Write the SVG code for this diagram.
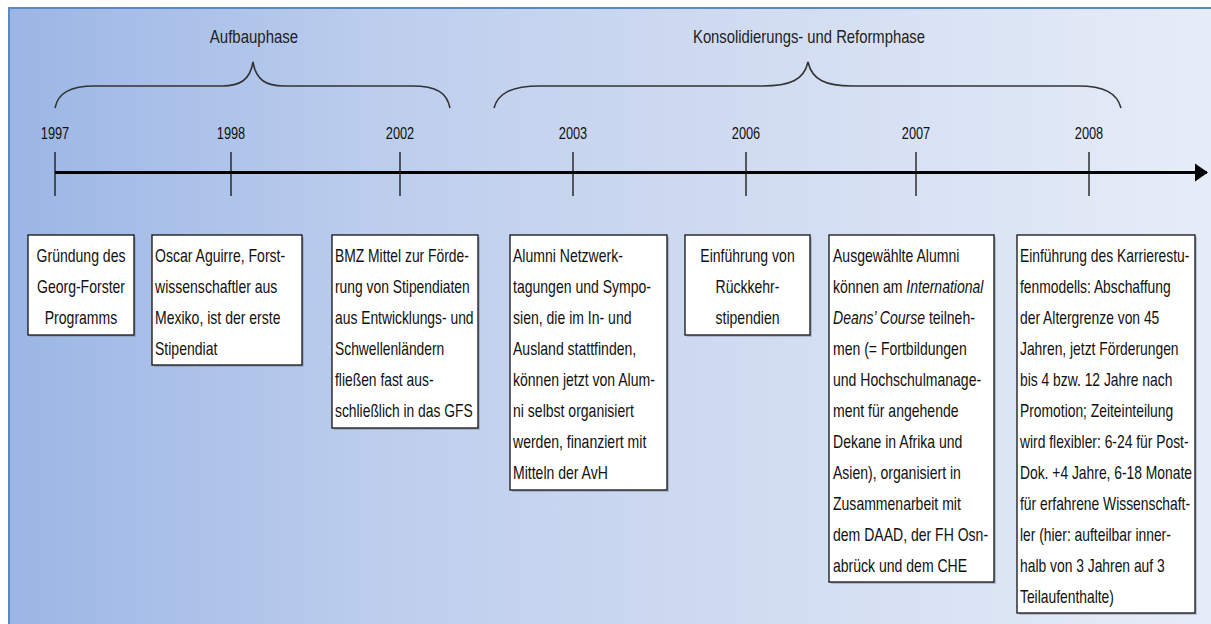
<svg xmlns="http://www.w3.org/2000/svg" width="1211" height="624" viewBox="0 0 1211 624">
<defs>
<linearGradient id="bg" x1="0" y1="0" x2="1" y2="0">
<stop offset="0" stop-color="#9bb6e5"/>
<stop offset="0.3" stop-color="#bccded"/>
<stop offset="0.6" stop-color="#d0dbf1"/>
<stop offset="1" stop-color="#e6edf8"/>
</linearGradient>
<marker id="arrow" markerUnits="userSpaceOnUse" markerWidth="14" markerHeight="20" refX="12" refY="10" orient="auto">
<path d="M0,1 L13,10 L0,19 Z" fill="#000"/>
</marker>
<style>
.t{font-family:"Liberation Sans",Arial,sans-serif;font-size:18px;fill:#111}
.yr{font-family:"Liberation Sans",Arial,sans-serif;font-size:16px;fill:#111;text-anchor:middle}
.ph{font-family:"Liberation Sans",Arial,sans-serif;font-size:18.5px;fill:#222;text-anchor:middle}
.c{text-anchor:middle}
.box{fill:#fff;stroke:#111;stroke-width:1.3}
.sh{fill:#7f8aa0;opacity:0.45}
.tick{stroke:#111;stroke-width:1.3}
.brace{fill:none;stroke:#333;stroke-width:1.6}
</style>
</defs>
<rect x="0" y="0" width="1211" height="624" fill="#fff"/>
<rect x="8" y="8" width="1203" height="616" fill="url(#bg)"/>
<line x1="8" y1="8" x2="1211" y2="8" stroke="#5a87c5" stroke-width="2"/>
<line x1="9" y1="8" x2="9" y2="624" stroke="#5a87c5" stroke-width="2"/>

<g id="phases">
<path class="brace" d="M55,108 C58,93 70,86 95,86 L222,86 C240,86 250,80 253,62 C256,80 266,86 284,86 L412,86 C437,86 447,93 450,108"/>
<path class="brace" d="M494,108 C498,93 512,86 540,86 L762,86 C790,86 804,80 808,62 C812,80 826,86 852,86 L1078,86 C1104,86 1117,93 1121,108"/>
<g transform="translate(254,43) scale(0.81,1)"><text class="ph" x="0" y="0">Aufbauphase</text></g>
<g transform="translate(809,43) scale(0.8,1)"><text class="ph" x="0" y="0">Konsolidierungs- und Reformphase</text></g>
</g>

<g id="connectors">
<line x1="55" y1="172.5" x2="1207" y2="172.5" stroke="#000" stroke-width="3" marker-end="url(#arrow)"/>
<line class="tick" x1="55" y1="152" x2="55" y2="196"/>
<line class="tick" x1="231" y1="152" x2="231" y2="196"/>
<line class="tick" x1="400" y1="152" x2="400" y2="196"/>
<line class="tick" x1="573" y1="152" x2="573" y2="196"/>
<line class="tick" x1="746" y1="152" x2="746" y2="196"/>
<line class="tick" x1="916" y1="152" x2="916" y2="196"/>
<line class="tick" x1="1089" y1="152" x2="1089" y2="196"/>
</g>

<g id="years">
<g transform="translate(55,139) scale(0.8,1)"><text class="yr">1997</text></g>
<g transform="translate(231,139) scale(0.8,1)"><text class="yr">1998</text></g>
<g transform="translate(400,139) scale(0.8,1)"><text class="yr">2002</text></g>
<g transform="translate(573,139) scale(0.8,1)"><text class="yr">2003</text></g>
<g transform="translate(746,139) scale(0.8,1)"><text class="yr">2006</text></g>
<g transform="translate(916,139) scale(0.8,1)"><text class="yr">2007</text></g>
<g transform="translate(1089,139) scale(0.8,1)"><text class="yr">2008</text></g>
</g>

<g id="n1997">
<rect class="sh" x="30" y="237" width="106" height="100"/>
<rect class="box" x="28" y="235" width="106" height="100"/>
<g transform="translate(81,0) scale(0.78,1)">
<text class="t c" x="0" y="262">Gründung des</text>
<text class="t c" x="0" y="293">Georg-Forster</text>
<text class="t c" x="0" y="324">Programms</text>
</g>
</g>

<g id="n1998">
<rect class="sh" x="154" y="237" width="150" height="130"/>
<rect class="box" x="152" y="235" width="150" height="130"/>
<g transform="translate(155,0) scale(0.78,1)">
<text class="t" x="0" y="262">Oscar Aguirre, Forst-</text>
<text class="t" x="0" y="293">wissenschaftler aus</text>
<text class="t" x="0" y="324">Mexiko, ist der erste</text>
<text class="t" x="0" y="355">Stipendiat</text>
</g>
</g>

<g id="n2002">
<rect class="sh" x="334" y="237" width="146" height="193"/>
<rect class="box" x="332" y="235" width="146" height="193"/>
<g transform="translate(335,0) scale(0.77,1)">
<text class="t" x="0" y="262">BMZ Mittel zur Förde-</text>
<text class="t" x="0" y="293">rung von Stipendiaten</text>
<text class="t" x="0" y="324">aus Entwicklungs- und</text>
<text class="t" x="0" y="355">Schwellenländern</text>
<text class="t" x="0" y="386">fließen fast aus-</text>
<text class="t" x="0" y="417">schließlich in das GFS</text>
</g>
</g>

<g id="n2003">
<rect class="sh" x="512" y="237" width="157" height="255"/>
<rect class="box" x="510" y="235" width="157" height="255"/>
<g transform="translate(513,0) scale(0.78,1)">
<text class="t" x="0" y="262">Alumni Netzwerk-</text>
<text class="t" x="0" y="293">tagungen und Sympo-</text>
<text class="t" x="0" y="324">sien, die im In- und</text>
<text class="t" x="0" y="355">Ausland stattfinden,</text>
<text class="t" x="0" y="386">können jetzt von Alum-</text>
<text class="t" x="0" y="417">ni selbst organisiert</text>
<text class="t" x="0" y="448">werden, finanziert mit</text>
<text class="t" x="0" y="479">Mitteln der AvH</text>
</g>
</g>

<g id="n2006">
<rect class="sh" x="687" y="237" width="125" height="100"/>
<rect class="box" x="685" y="235" width="125" height="100"/>
<g transform="translate(747.5,0) scale(0.78,1)">
<text class="t c" x="0" y="262">Einführung von</text>
<text class="t c" x="0" y="293">Rückkehr-</text>
<text class="t c" x="0" y="324">stipendien</text>
</g>
</g>

<g id="n2007">
<rect class="sh" x="831" y="237" width="165" height="347"/>
<rect class="box" x="829" y="235" width="165" height="347"/>
<g transform="translate(833,0) scale(0.78,1)">
<text class="t" x="0" y="262">Ausgewählte Alumni</text>
<text class="t" x="0" y="293">können am <tspan font-style="italic">International</tspan></text>
<text class="t" x="0" y="324"><tspan font-style="italic">Deans’ Course</tspan> teilneh-</text>
<text class="t" x="0" y="355">men (= Fortbildungen</text>
<text class="t" x="0" y="386">und Hochschulmanage-</text>
<text class="t" x="0" y="417">ment für angehende</text>
<text class="t" x="0" y="448">Dekane in Afrika und</text>
<text class="t" x="0" y="479">Asien), organisiert in</text>
<text class="t" x="0" y="510">Zusammenarbeit mit</text>
<text class="t" x="0" y="541">dem DAAD, der FH Osn-</text>
<text class="t" x="0" y="572">abrück und dem CHE</text>
</g>
</g>

<g id="n2008">
<rect class="sh" x="1019" y="237" width="178" height="378"/>
<rect class="box" x="1017" y="235" width="178" height="378"/>
<g transform="translate(1020,0) scale(0.77,1)">
<text class="t" x="0" y="262">Einführung des Karrierestu-</text>
<text class="t" x="0" y="293">fenmodells: Abschaffung</text>
<text class="t" x="0" y="324">der Altergrenze von 45</text>
<text class="t" x="0" y="355">Jahren, jetzt Förderungen</text>
<text class="t" x="0" y="386">bis 4 bzw. 12 Jahre nach</text>
<text class="t" x="0" y="417">Promotion; Zeiteinteilung</text>
<text class="t" x="0" y="448">wird flexibler: 6-24 für Post-</text>
<text class="t" x="0" y="479">Dok. +4 Jahre, 6-18 Monate</text>
<text class="t" x="0" y="510">für erfahrene Wissenschaft-</text>
<text class="t" x="0" y="541">ler (hier: aufteilbar inner-</text>
<text class="t" x="0" y="572">halb von 3 Jahren auf 3</text>
<text class="t" x="0" y="603">Teilaufenthalte)</text>
</g>
</g>
</svg>
